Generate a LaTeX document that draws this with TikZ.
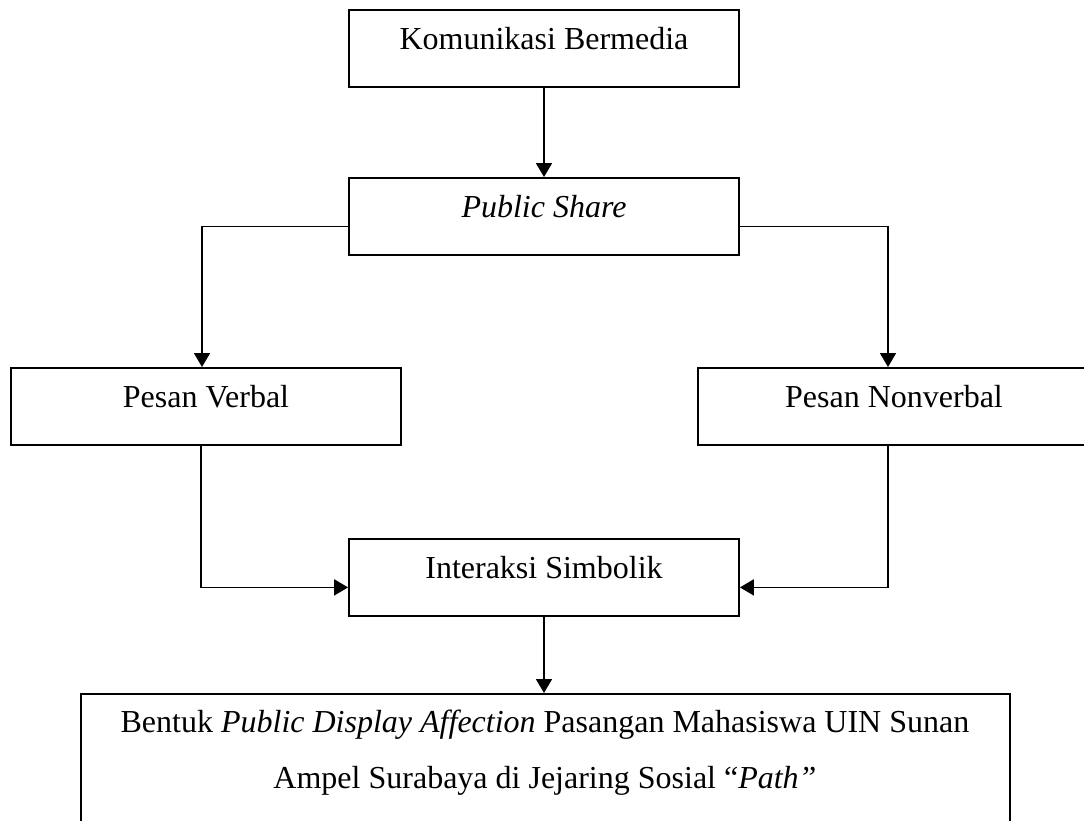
\documentclass[tikz,border=0pt]{standalone}
\usepackage{fontspec}
\setmainfont{Liberation Serif}
\usetikzlibrary{arrows.meta}
\begin{document}
\begin{tikzpicture}[x=0.5pt,y=-0.5pt,
  font=\fontsize{16}{28}\selectfont,
  box/.style={draw,line width=0.9pt,rectangle,inner xsep=0pt,inner ysep=0pt,
    text height=20pt,text depth=18.5pt,minimum height=38.5pt},
  conn/.style={line width=0.9pt,-{Triangle[length=7pt,width=8pt]}}]
\useasboundingbox (0,0) rectangle (1084,821);
\clip (0,0) rectangle (1084,821);
\node[box,minimum width=195pt,anchor=north] (kb) at (544,9) {Komunikasi Bermedia};
\node[box,minimum width=195pt,anchor=north] (ps) at (544,177) {\textit{Public Share}};
\node[box,minimum width=195pt,anchor=north] (pv) at (206,367) {Pesan Verbal};
\node[box,minimum width=202pt,anchor=north] (pn) at (900,367) {\hspace*{-6pt}Pesan Nonverbal};
\node[box,minimum width=195pt,anchor=north] (is) at (544,538) {Interaksi Simbolik};
\node[draw,line width=0.9pt,rectangle,minimum width=464.5pt,minimum height=100pt,anchor=north,inner sep=0pt] (bt) at (545.5,693) {};
\node[anchor=base,inner sep=0pt] (bt1) at (545,732) {Bentuk \textit{Public Display Affection} Pasangan Mahasiswa UIN Sunan};
\node[anchor=base,inner sep=0pt] (bt2) at (545,788) {Ampel Surabaya di Jejaring Sosial ``\textit{Path''}};
\draw[conn] (kb.south) -- (ps.north);
\draw[conn] ([yshift=-5pt]ps.west) -| ([xshift=-2pt]pv.north);
\draw[conn] ([yshift=-5pt]ps.east) -| ([xshift=-6pt]pn.north);
\draw[conn] ([xshift=-2.5pt]pv.south) |- ([yshift=-5pt]is.west);
\draw[conn] ([xshift=-6pt]pn.south) |- ([yshift=-5pt]is.east);
\draw[conn] (is.south) -- (is.south |- bt.north);
\end{tikzpicture}
\end{document}
